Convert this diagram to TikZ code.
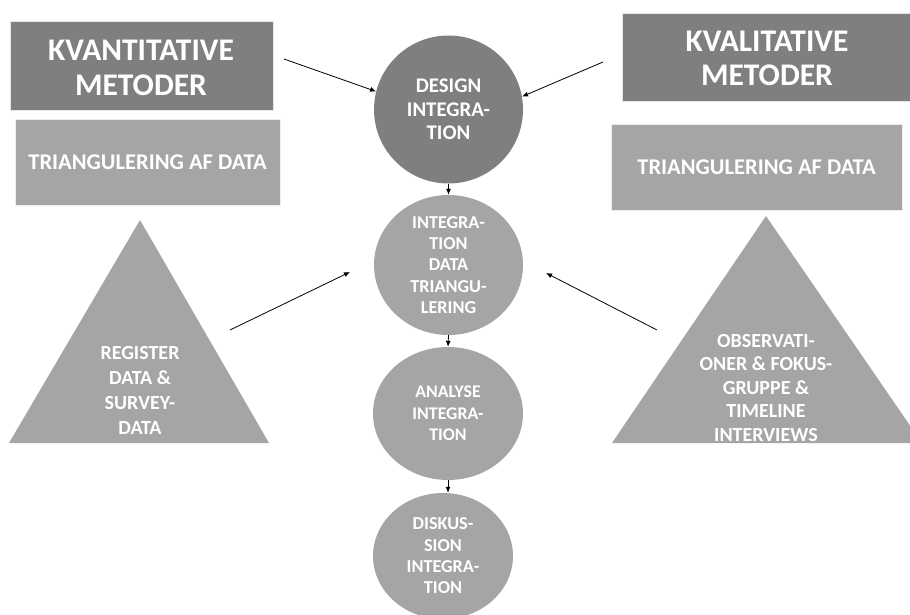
\documentclass[tikz,border=0pt]{standalone}
\usepackage{fontspec}
\setmainfont{Carlito}
\usetikzlibrary{shapes.geometric,arrows.meta}
\definecolor{darkgrey}{HTML}{7F7F7F}
\definecolor{lightgrey}{HTML}{A5A5A5}
\tikzset{
  headbox/.style={rectangle, fill=darkgrey, draw=white!80!darkgrey, line width=0.5pt,
    text=white, align=center, inner sep=0pt,
    font=\bfseries\fontsize{31.5}{35.5}\selectfont},
  tribox/.style={rectangle, fill=lightgrey, draw=white!80!lightgrey, line width=0.5pt,
    text=white, align=center, inner sep=0pt,
    font=\bfseries\fontsize{22.5}{26}\selectfont},
  stage/.style={ellipse, inner sep=0pt, text=white, align=center,
    font=\bfseries\fontsize{18.2}{21.3}\selectfont},
  tritext/.style={text=white, align=center, inner sep=0pt},
  arr/.style={-{Latex[length=6pt,width=5pt]}, line width=0.8pt, black}
}
\begin{document}
\begin{tikzpicture}[x=1pt,y=-1pt]
\useasboundingbox (0,0) rectangle (910,615);
\clip (0,0) rectangle (910,615);

% method headers (text placed slightly below box centre)
\node[headbox, minimum width=263pt, minimum height=89pt] (quant) at (141.5,65.5) {};
\node[text=white, align=center, inner sep=0pt, font=\bfseries\fontsize{31.5}{35.5}\selectfont]
  (quantlabel) at (141,68) {KVANTITATIVE\\METODER};
\node[headbox, minimum width=290pt, minimum height=88pt] (qual) at (767,57) {};
\node[text=white, align=center, inner sep=0pt, font=\bfseries\fontsize{31.5}{34}\selectfont]
  (quallabel) at (767,58.5) {KVALITATIVE\\METODER};

% triangulation boxes
\node[tribox, minimum width=265pt, minimum height=86pt] (triL) at (147.5,162)
  {TRIANGULERING AF DATA};
\node[tribox, minimum width=291pt, minimum height=86pt] (triR) at (756.5,167.5)
  {TRIANGULERING AF DATA};

% data pyramids
\fill[lightgrey] (140,220) -- (269,443) -- (9,443) -- cycle;
\node[tritext, font=\bfseries\fontsize{20}{25}\selectfont] (regdata) at (140,390.5)
  {REGISTER\\DATA \&\\SURVEY-\\DATA};
\fill[lightgrey] (766,216) -- (922,443) -- (612,443) -- cycle;
\node[tritext, font=\bfseries\fontsize{20}{23.5}\selectfont] (obsdata) at (766,388)
  {OBSERVATI-\\ONER \& FOKUS-\\GRUPPE \&\\TIMELINE\\INTERVIEWS};
\fill[white] (600,443.5) rectangle (910,460);

% integration stages
\node[stage, fill=darkgrey, minimum width=149pt, minimum height=148pt,
  font=\bfseries\fontsize{20.8}{23.5}\selectfont] (design) at (448.5,109.5)
  {DESIGN\\INTEGRA-\\TION};
\node[stage, fill=lightgrey, minimum width=149pt, minimum height=140pt] (integ) at (448.5,265)
  {INTEGRA-\\TION\\DATA\\TRIANGU-\\LERING};
\node[stage, fill=lightgrey, minimum width=150pt, minimum height=133pt,
  font=\bfseries\fontsize{17.8}{21.5}\selectfont] (analyse) at (448,413.5)
  {ANALYSE\\INTEGRA-\\TION};
\node[stage, fill=lightgrey, minimum width=140pt, minimum height=126pt] (disk) at (443,556)
  {DISKUS-\\SION\\INTEGRA-\\TION};

% connectors
\coordinate (fromQuant) at (284,59);
\coordinate (fromQual) at (603,62);
\coordinate (fromReg) at (230,330);
\coordinate (toIntegL) at (350,272);
\coordinate (fromObs) at (657,330);
\coordinate (toIntegR) at (546,273);

\draw[arr] (fromQuant) -- (design.166);
\draw[arr] (fromQual) -- (design.10);
\draw[arr] (fromReg) -- (toIntegL);
\draw[arr] (fromObs) -- (toIntegR);
\draw[arr] (design.south) -- (integ.north);
\draw[arr] (integ.south) -- (analyse.north);
\draw[arr] (analyse.south) -- (analyse.south |- disk.north);
\end{tikzpicture}
\end{document}
